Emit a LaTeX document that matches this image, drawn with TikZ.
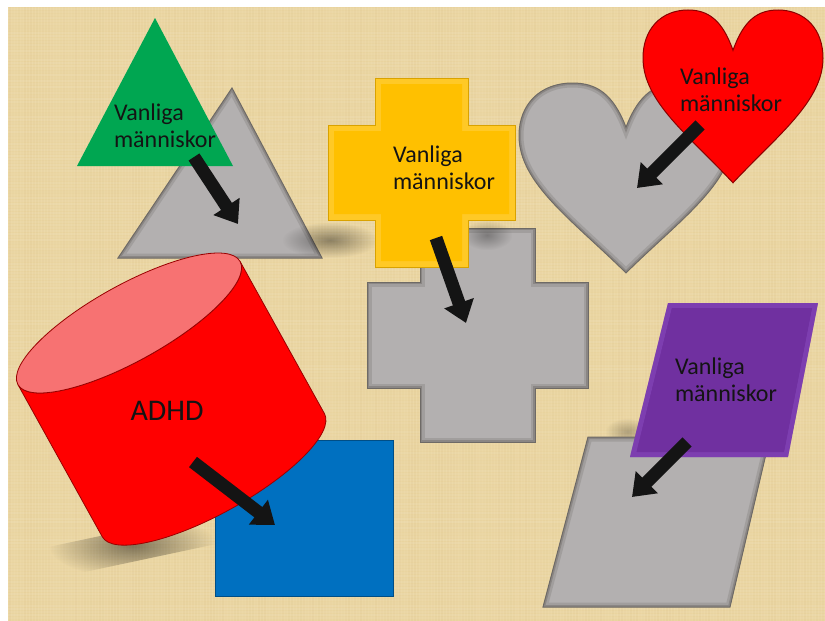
\documentclass[tikz,border=0pt]{standalone}
\usepackage{fontspec}
\setmainfont{Carlito}
\usetikzlibrary{arrows.meta,fadings}

\definecolor{bg}{HTML}{EBD6A2}
\definecolor{bgdark}{HTML}{B89A5C}
\definecolor{greyfill}{HTML}{B3B0B0}
\definecolor{greyedge}{HTML}{6E6A66}
\definecolor{gold}{HTML}{FFC000}
\definecolor{goldlight}{HTML}{FFD34D}
\definecolor{golddark}{HTML}{D9A200}
\definecolor{grn}{HTML}{00A651}
\definecolor{redc}{HTML}{FF0000}
\definecolor{redtop}{HTML}{F77272}
\definecolor{bluesq}{HTML}{0070C0}
\definecolor{purp}{HTML}{7030A0}
\definecolor{purplight}{HTML}{8A4CC0}
\definecolor{txt}{HTML}{141414}

\tikzset{
  bigarrow/.style={line width=13pt, draw=black!92, -{Triangle[width=30pt,length=21pt]}},
  lbl/.style={font=\fontsize{24}{27}\selectfont, align=left, text=txt, inner sep=0pt},
  adhdlbl/.style={font=\fontsize{30}{34}\selectfont, text=txt, inner sep=0pt},
}
\tikzfading[name=softedge, inner color=transparent!0, outer color=transparent!100]

\newcommand\greyshape[1]{%
  \fill[greyfill] #1;
  \begin{scope}
    \clip #1;
    \draw[greyedge, line width=9pt, opacity=0.25] #1;
    \draw[greyedge, line width=4pt, opacity=0.45] #1;
  \end{scope}
  \draw[greyedge, line width=1pt] #1;
}

\def\heartpath{(0,0.42) .. controls (-0.12,0.1) and (-0.28,0) .. (-0.5,0)
  .. controls (-0.8,0) and (-1,0.2) .. (-1,0.5)
  .. controls (-1,0.95) and (-0.5,1.3) .. (0,1.8)
  .. controls (0.5,1.3) and (1,0.95) .. (1,0.5)
  .. controls (1,0.2) and (0.8,0) .. (0.5,0)
  .. controls (0.28,0) and (0.12,0.1) .. (0,0.42) -- cycle}

\begin{document}
\begin{tikzpicture}[x=1pt, y=-1pt]
  % canvas
  \useasboundingbox (0,0) rectangle (825,621);
  \fill[white] (0,0) rectangle (825,621);
  \fill[bg] (8,7) rectangle (825,621);
  % woven texture
  \pgfmathsetseed{7}
  \foreach \i in {10,13,...,823} {
    \pgfmathsetmacro\op{0.02+0.06*rnd}
    \draw[bgdark, line width=1.2pt, opacity=\op] (\i,7) -- (\i,621);
  }
  \foreach \j in {9,12,...,619} {
    \pgfmathsetmacro\op{0.03+0.07*rnd}
    \draw[white, line width=1.2pt, opacity=\op] (8,\j) -- (825,\j);
  }

  % ---- triangles
  \greyshape{(118,258) -- (232,88) -- (322,258) -- cycle}
  \fill[grn] (77,166) -- (155,18) -- (233,166) -- cycle;
  \node[lbl] (t1) at (165,126) {Vanliga\\människor};

  % ---- crosses
  \greyshape{(420,228) -- (535,228) -- (535,282) -- (588,282) -- (588,388) -- (535,388) -- (535,442) -- (420,442) -- (420,388) -- (367,388) -- (367,282) -- (420,282) -- cycle}
  \fill[black, opacity=0.4, path fading=softedge] (282,222) rectangle (378,258);
  \fill[black, opacity=0.3, path fading=softedge] (462,220) rectangle (512,250);
  \def\ycross{(375,78) -- (468,78) -- (468,125) -- (515,125) -- (515,220) -- (468,220) -- (468,267) -- (375,267) -- (375,220) -- (328,220) -- (328,125) -- (375,125) -- cycle}
  \fill[gold] \ycross;
  \begin{scope}
    \clip \ycross;
    \draw[goldlight, line width=12pt, opacity=0.5] \ycross;
  \end{scope}
  \fill[gold] (381,84) -- (462,84) -- (462,131) -- (509,131) -- (509,214) -- (462,214) -- (462,261) -- (381,261) -- (381,214) -- (334,214) -- (334,131) -- (381,131) -- cycle;
  \draw[golddark, line width=0.8pt] \ycross;
  \node[lbl] (t2) at (444,168) {Vanliga\\människor};

  % ---- hearts
  \begin{scope}[shift={(626,83)}, xscale=107, yscale=105.5]
    \greyshape{\heartpath}
  \end{scope}
  \begin{scope}[shift={(733,10)}, xscale=90, yscale=96]
    \fill[redc, draw=red!55!black, line width=1pt] \heartpath;
  \end{scope}
  \node[lbl] (t3) at (731,90) {Vanliga\\människor};

  % ---- square and cylinder
  \fill[bluesq, draw=bluesq!70!black, line width=0.8pt] (215,440) rectangle (393,596);
  \fill[black, opacity=0.45, path fading=softedge, rotate around={12:(130,545)}] (50,530) rectangle (215,562);
  \begin{scope}[shift={(129,323)}, rotate=29]
    \fill[redc, draw=red!60!black, line width=0.8pt] (-127,0) -- (-127,174)
      arc[start angle=180, end angle=360, x radius=127pt, y radius=38pt]
      -- (127,0)
      arc[start angle=360, end angle=180, x radius=127pt, y radius=38pt] -- cycle;
    \fill[redtop, draw=red!60!black, line width=0.8pt] (0,0) ellipse [x radius=127pt, y radius=38pt];
  \end{scope}
  \node[adhdlbl] (t4) at (167,411) {ADHD};

  % ---- parallelograms
  \fill[black, opacity=0.25, path fading=softedge] (605,418) rectangle (650,445);
  \greyshape{(588,437) -- (770,437) -- (730,607) -- (543,607) -- cycle}
  \def\ppar{(668,303) -- (818,303) -- (788,457) -- (630,457) -- cycle}
  \fill[purp] \ppar;
  \begin{scope}
    \clip \ppar;
    \draw[purplight, line width=10pt, opacity=0.5] \ppar;
  \end{scope}
  \fill[purp] (672,308) -- (812,308) -- (784,452) -- (637,452) -- cycle;
  \node[lbl] (t5) at (726,380) {Vanliga\\människor};

  % ---- arrows
  \coordinate (a1s) at (194,157);  \coordinate (a1e) at (238,224);
  \coordinate (a2s) at (436,238);  \coordinate (a2e) at (466,323);
  \coordinate (a3s) at (700,125);  \coordinate (a3e) at (637,188);
  \coordinate (a4s) at (193,462);  \coordinate (a4e) at (275,525);
  \coordinate (a5s) at (687,442);  \coordinate (a5e) at (632,497);
  \draw[bigarrow] (a1s) -- (a1e);
  \draw[bigarrow] (a2s) -- (a2e);
  \draw[bigarrow] (a3s) -- (a3e);
  \draw[bigarrow] (a4s) -- (a4e);
  \draw[bigarrow] (a5s) -- (a5e);
\end{tikzpicture}
\end{document}
